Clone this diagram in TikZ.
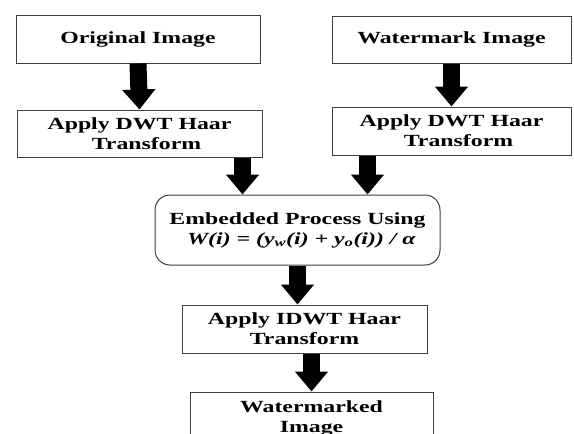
\documentclass[tikz,border=0pt]{standalone}
\usepackage{fontspec}
\setmainfont{Liberation Serif}[FakeStretch=1.4]
\usetikzlibrary{arrows.meta,calc}
\tikzset{
  box/.style={draw=black!75, line width=1pt, fill=white, align=center, inner sep=0pt,
    font=\fontsize{17}{20}\selectfont\bfseries},
  embox/.style={box, rounded corners=15pt},
  bigarrow/.style={draw=black, line width=17pt, -{Triangle[width=32pt,length=20pt]}, shorten >=0pt},
}
\begin{document}
\begin{tikzpicture}[x=1pt,y=1pt]
\useasboundingbox (0,0) rectangle (574,-434);
\node[box, minimum width=244pt, minimum height=48pt] (b1) at (138,-39) {Original Image};
\node[box, minimum width=245pt, minimum height=47pt] (b2) at (139.5,-133.5) {Apply DWT Haar\\\hspace*{14pt}Transform};
\node[box, minimum width=239pt, minimum height=47pt] (b3) at (451.5,-39.5) {Watermark Image};
\node[box, minimum width=239pt, minimum height=48pt] (b4) at (451.5,-131) {Apply DWT Haar\\\hspace*{14pt}Transform};
\node[embox, minimum width=285pt, minimum height=70pt] (e) at (297.5,-230)
  {Embedded Process Using\\\hspace*{8pt}\textit{W(i) = (y\textsubscript{w}(i) + y\textsubscript{o}(i)) / α}};
\node[box, minimum width=245pt, minimum height=48pt] (b5) at (304.5,-329) {Apply IDWT Haar\\Transform};
\node[box, minimum width=243pt, minimum height=52pt] (b6) at (311.5,-418) {Watermarked\\Image};
\draw[bigarrow] (b1.south) -- (b2.north);
\draw[bigarrow] (b3.south) -- (b4.north);
\draw[bigarrow] ([xshift=-20pt]b2.south east) -- ([xshift=-20pt]b2.south east |- e.north);
\draw[bigarrow] ([xshift=36pt]b4.south west) -- ([xshift=36pt]b4.south west |- e.north);
\draw[bigarrow] (e.south) -- (e.south |- b5.north);
\draw[bigarrow] (b6.north |- b5.south) -- (b6.north);
\end{tikzpicture}
\end{document}
